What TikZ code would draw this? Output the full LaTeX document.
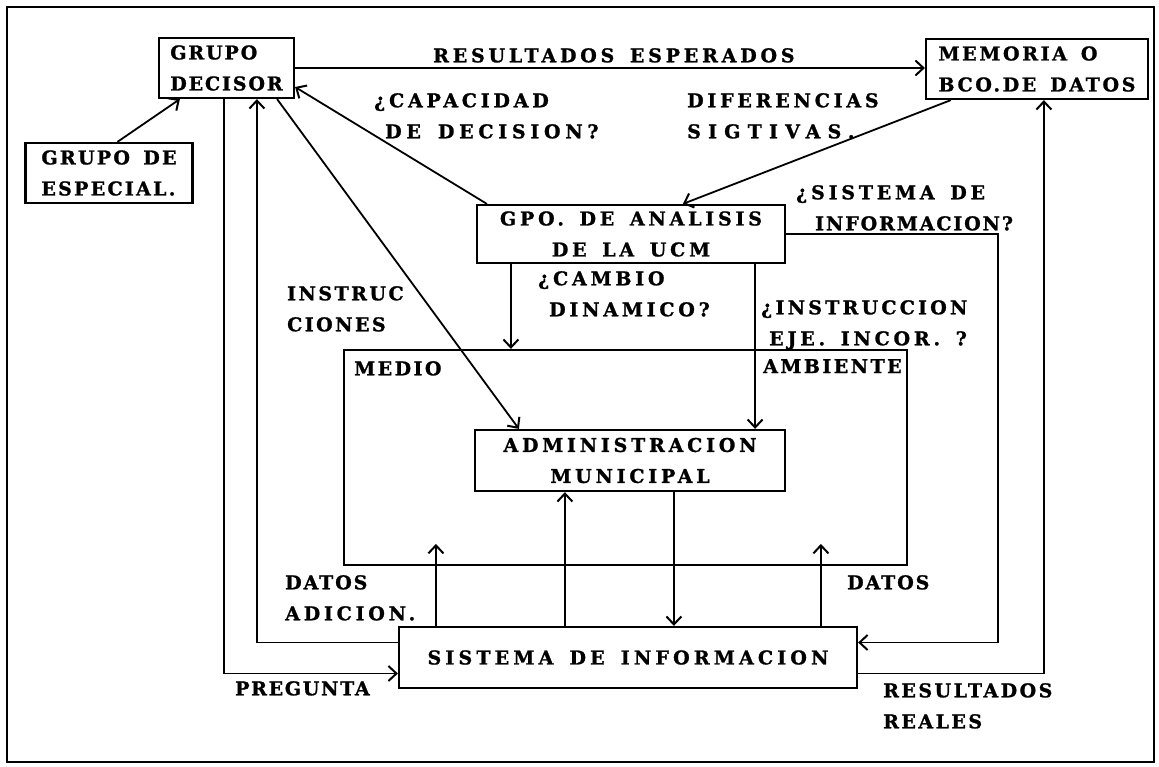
\documentclass[tikz,border=0pt]{standalone}
\usepackage{fontspec}
\newfontfamily\dmfont{DejaVu Serif}[LetterSpace=20, WordSpace=1.5, BoldFeatures={FakeBold=1.2}]
\newcommand\dmtext{\dmfont\bfseries\fontsize{19}{31}\selectfont}
\newcommand\lsp[2]{{\addfontfeature{LetterSpace=#1}#2}}
\usetikzlibrary{arrows.meta}
\begin{document}
\begin{tikzpicture}[x=1pt,y=-1pt,
  >={Straight Barb[length=8pt,width=15pt,line width=2pt]},
  box/.style={draw, line width=2.2pt, inner sep=0pt, font=\dmtext},
  lbl/.style={font=\dmtext, inner sep=0pt, align=left, anchor=north west},
  conn/.style={line width=1.8pt, ->}]
\useasboundingbox (0,0) rectangle (1159,766);
\draw[line width=2.2pt] (7,7) rectangle (1154,762);

% boxes
\node[draw, line width=2.2pt, minimum width=563pt, minimum height=215pt, inner sep=0pt] (med) at (625.5,457.5) {};
\node[box, align=left, minimum width=135pt, minimum height=60pt] (dec) at (226.5,68) {\lsp{10}{GRUPO}\\\lsp{10}{DECISOR}};
\node[box, align=left, minimum width=167pt, minimum height=60pt] (esp) at (109,173) {\lsp{12}{GRUPO DE}\\\lsp{12}{ESPECIAL.}};
\node[box, align=left, minimum width=222pt, minimum height=60pt] (mem) at (1037,69) {\lsp{14}{MEMORIA O}\\\lsp{14}{BCO.DE DATOS}};
\node[box, align=center, minimum width=308pt, minimum height=58pt] (gpo) at (631,234) {GPO. DE ANALISIS\\DE LA UCM};
\node[box, align=center, minimum width=310pt, minimum height=61pt] (adm) at (630,460.5) {ADMINISTRACION\\MUNICIPAL};
\node[box, align=center, minimum width=458pt, minimum height=61pt] (sis) at (628,657.5) {\lsp{22}{SISTEMA DE INFORMACION}};

% labels
\node[lbl] (lres) at (433,48) {RESULTADOS ESPERADOS};
\node[lbl] (lcap) at (374,93) {¿CAPACIDAD\\\hspace*{11pt}\lsp{25}{DE DECISION?}};
\node[lbl] (ldif) at (687,93) {DIFERENCIAS\\\lsp{38}{SIGTIVAS.}};
\node[lbl] (lsis) at (796,185) {¿SISTEMA DE\\\hspace*{19pt}\lsp{10}{INFORMACION?}};
\node[lbl] (lcam) at (538,271) {¿CAMBIO\\\hspace*{11pt}DINAMICO?};
\node[lbl] (lins) at (761,300) {\lsp{17}{¿INSTRUCCION}\\\hspace*{8pt}EJE. INCOR. ?};
\node[lbl] (linst) at (287,286) {\lsp{13}{INSTRUC}\\\lsp{13}{CIONES}};
\node[lbl] (lmed) at (354,361) {\lsp{13}{MEDIO}};
\node[lbl] (lamb) at (763,359) {\lsp{13}{AMBIENTE}};
\node[lbl] (ldat) at (285,575) {\lsp{10}{DATOS}\\ADICION.};
\node[lbl] (ldat2) at (847,575) {\lsp{10}{DATOS}};
\node[lbl] (lpre) at (235,681) {\lsp{9}{PREGUNTA}};
\node[lbl] (lrr) at (883,683) {\lsp{13}{RESULTADOS}\\\lsp{13}{REALES}};

% connectors
\draw[conn] ([xshift=93pt]esp.north west) -- ([xshift=22pt]dec.south west);
\draw[conn] (dec.east) -- (dec.east -| mem.west);
\draw[conn] ([xshift=11pt]gpo.north west) -- ([yshift=-19pt]dec.east);
\draw[conn] ([xshift=26pt]mem.south west) -- ([xshift=207pt]gpo.north west);
\draw[conn] ([xshift=35pt]gpo.south west) -- ([xshift=35pt]gpo.south west |- med.north);
\draw[conn] ([xshift=-31pt]gpo.south east) -- ([xshift=-31pt]gpo.south east |- adm.north);
\draw[conn] ([xshift=-18pt]dec.south east) -- ([xshift=45pt]adm.north west);
\draw[conn] ([xshift=66pt]dec.south west) |- ([yshift=-16pt]sis.west);
\draw[conn] ([yshift=15pt]sis.west) -| ([xshift=99pt]dec.south west);
\draw[conn] ([xshift=38pt]sis.north west) -- ++(0,-82);
\draw[conn] ([xshift=423pt]sis.north west) -- ++(0,-82);
\draw[conn] ([xshift=167pt]sis.north west) -- ([xshift=167pt]sis.north west |- adm.south);
\draw[conn] ([xshift=200pt]adm.south west) -- ([xshift=200pt]adm.south west |- sis.north);
\draw[conn] (gpo.east) -- ++(212,0) |- ([yshift=15pt]sis.east);
\draw[conn] ([yshift=-16pt]sis.east) -| ([xshift=119pt]mem.south west);
\end{tikzpicture}
\end{document}
